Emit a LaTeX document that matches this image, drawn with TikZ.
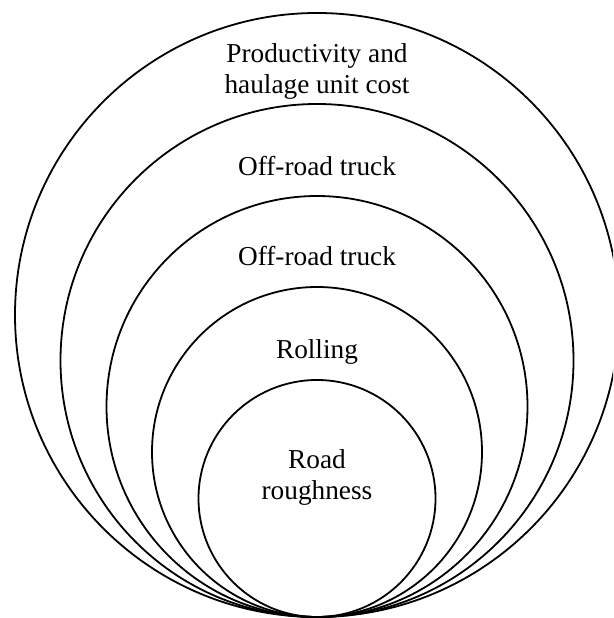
\documentclass[tikz,border=0pt]{standalone}
\usepackage{fontspec}
\setmainfont{Liberation Serif}
\begin{document}
\begin{tikzpicture}[x=1pt,y=1pt,
  ring/.style={draw=black,line width=1.8pt},
  lbl/.style={align=center,inner sep=0pt,font=\fontsize{27.3}{31}\selectfont}]
\useasboundingbox (0,0) rectangle (613,618);
\clip (0,0) rectangle (613,618);
\draw[ring] (317,303) circle[radius=302];
\draw[ring] (317,257.5) circle[radius=256.5];
\draw[ring] (317,211.5) circle[radius=210.5];
\draw[ring] (317,166) circle[radius=165];
\draw[ring] (317,119.5) circle[radius=118.5];
\node[lbl] (p) at (317,547) {Productivity and\\haulage unit cost};
\node[lbl] (t1) at (317,452) {Off-road truck};
\node[lbl] (t2) at (317,362) {Off-road truck};
\node[lbl] (r) at (317,266) {Rolling};
\node[lbl] (rr) at (317,141) {Road\\roughness};
\end{tikzpicture}
\end{document}
